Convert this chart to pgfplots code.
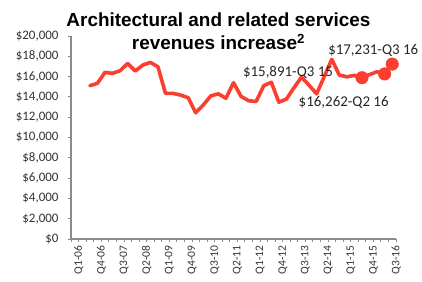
\documentclass[border=0pt]{standalone}
\usepackage{pgfplots}
\pgfplotsset{compat=1.18}
\usepackage{pgfplotstable}
\usepackage{fontspec}
\setmainfont{Carlito}
\newfontfamily\titlefont{Liberation Sans}
\definecolor{linered}{RGB}{250,62,48}
\definecolor{axgray}{RGB}{140,140,140}
\pgfplotstableread{
x y
2 15100
3 15340
4 16420
5 16320
6 16580
7 17300
8 16550
9 17140
10 17400
11 16970
12 14350
13 14350
14 14180
15 13920
16 12440
17 13200
18 14100
19 14300
20 13860
21 15400
22 14050
23 13620
24 13550
25 15100
26 15450
27 13480
28 13780
29 14900
30 15950
31 15150
32 14300
33 16000
34 17700
35 16150
36 15980
37 16120
38 15891
39 16200
40 16480
41 16262
42 17231
}\revdata
\pgfplotstableread{
x y dx dy label
38 15891 -74 5 {\$15,891-Q3 15}
41 16262 -41 -29 {\$16,262-Q2 16}
42 17231 -19 14 {\$17,231-Q3 16}
}\labdata
\begin{document}
\begin{tikzpicture}
\begin{axis}[
  at={(0,0)}, anchor=south west,
  scale only axis, width=325bp, height=203bp,
  xmin=-0.5, xmax=42.5, ymin=0, ymax=20000,
  axis x line=bottom, axis y line=left,
  axis line style={-, axgray, line width=1.1bp},
  clip=false,
  xtick={0,3,...,42},
  xticklabels={Q1-06,Q4-06,Q3-07,Q2-08,Q1-09,Q4-09,Q3-10,Q2-11,Q1-12,Q4-12,Q3-13,Q2-14,Q1-15,Q4-15,Q3-16},
  minor xtick={-0.5,0.5,...,42.5},
  ytick={0,2000,...,20000},
  tick align=outside,
  major tick length=3bp, minor tick length=3bp,
  tick style={axgray, line width=0.8bp},
  major x tick style={/pgfplots/major tick length=0pt},
  scaled y ticks=false,
  /pgf/number format/assume math mode=true,
  /pgf/number format/1000 sep={,},
  yticklabel={\$\pgfmathprintnumber{\tick}},
  yticklabel style={font=\fontsize{13}{15}\selectfont, text=black!80, xshift=-6bp},
  xticklabel style={rotate=90, anchor=east, font=\fontsize{11.5}{13}\selectfont, text=black!80, yshift=-4bp},
]
\addplot[linered, line width=3.6bp, line join=round, line cap=round, mark=none] table[x=x,y=y]{\revdata};
\addplot[only marks, mark=*, mark size=6.3bp, draw=linered, fill=linered,
  nodes near coords, point meta=explicit symbolic,
  visualization depends on={\thisrow{dx}\as\dx},
  visualization depends on={\thisrow{dy}\as\dy},
  every node near coord/.append style={font=\fontsize{15}{17}\selectfont, text=black!85, anchor=center, xshift=\dx bp, yshift=\dy bp}]
  table[x=x,y=y,meta=label]{\labdata};
\end{axis}
\node[font=\titlefont\bfseries\fontsize{19}{23}\selectfont, align=center] at (147.5bp,207.5bp) {Architectural and related services\\revenues increase\textsuperscript{2}};
\pgfresetboundingbox
\path (-71bp,-43bp) rectangle (351bp,239bp);
\end{tikzpicture}
\end{document}
